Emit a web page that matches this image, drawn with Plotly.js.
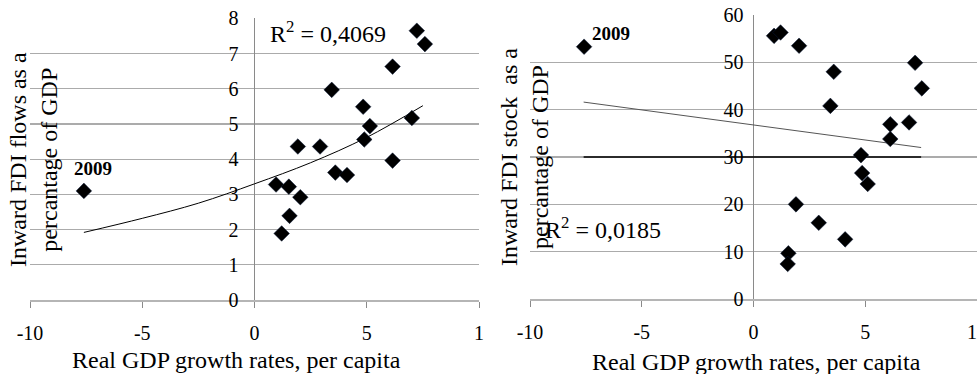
<!DOCTYPE html>
<html>
<head>
<meta charset="utf-8">
<script src="https://cdn.plot.ly/plotly-3.0.1.min.js"></script>
<style>html,body{margin:0;padding:0;background:#fff;}#chart{width:977px;height:374px;}</style>
</head>
<body>
<div id="chart"></div>
<script>
// ---- Data ----
const flowsX = [-7.6, 7.23, 7.59, 6.15, 3.44, 4.84, 5.14, 7.01, 4.89, 1.93, 2.92, 6.15, 3.60, 4.12, 0.96, 1.53, 2.04, 1.56, 1.21];
const flowsY = [3.10, 7.65, 7.27, 6.63, 5.97, 5.49, 4.94, 5.17, 4.56, 4.36, 4.36, 3.96, 3.62, 3.55, 3.28, 3.22, 2.92, 2.39, 1.89];
const flowsTrendX = [-7.6, -5, -2.5, 0, 2.5, 5, 7.5];
const flowsTrendY = [1.92, 2.32, 2.75, 3.30, 3.90, 4.62, 5.52];

const stockX = [-7.58, 0.92, 1.21, 2.04, 3.59, 3.44, 7.23, 7.53, 6.12, 6.12, 6.96, 4.81, 4.86, 5.11, 1.90, 2.92, 4.10, 1.56, 1.53];
const stockY = [53.3, 55.6, 56.3, 53.5, 48.0, 40.8, 49.9, 44.5, 36.9, 33.8, 37.3, 30.4, 26.6, 24.3, 20.0, 16.1, 12.6, 9.65, 7.4];
const stockTrendX = [-7.6, 7.5];
const stockTrendY = [41.6, 32.0];
const stockRefX = [-7.6, 7.5];
const stockRefY = [30, 30];

const xTickVals = [-10, -5, 0, 5, 10];
const xTickTextLeft = ['-10', '-5', '0', '5', '1'];
const xTickTextRight = ['-10', '-5', '0', '5', '10'];
const yTickValsLeft = [0, 1, 2, 3, 4, 5, 6, 7, 8];
const yTickValsRight = [0, 10, 20, 30, 40, 50, 60];

const r2Left = 'R<sup>2</sup> = 0,4069';
const r2Right = 'R<sup>2</sup> = 0,0185';
const yTitleLeft = 'Inward FDI flows as a<br>percantage of GDP';
const yTitleRight = 'Inward FDI stock&nbsp;&nbsp;as a<br>percantage of GDP';
const xTitle = 'Real GDP growth rates, per capita';
const yearLabel = '2009';

// ---- Layout geometry ----
const W = 977, H = 374;
const px = v => v / W;
const py = v => 1 - v / H;
const FONT = '"Liberation Serif", "DejaVu Serif", serif';

const marker = {symbol: 'diamond', size: 12, color: '#000000', line: {color: '#0a1a3a', width: 0.5}};

const traces = [
  {x: flowsTrendX, y: flowsTrendY, xaxis: 'x', yaxis: 'y', mode: 'lines', line: {color: '#000', width: 1, shape: 'spline'}, hoverinfo: 'skip'},
  {x: flowsX, y: flowsY, xaxis: 'x', yaxis: 'y', mode: 'markers', marker: marker},
  {x: stockRefX, y: stockRefY, xaxis: 'x2', yaxis: 'y2', mode: 'lines', line: {color: '#000', width: 1.3}, hoverinfo: 'skip'},
  {x: stockTrendX, y: stockTrendY, xaxis: 'x2', yaxis: 'y2', mode: 'lines', line: {color: '#555', width: 1}, hoverinfo: 'skip'},
  {x: stockX, y: stockY, xaxis: 'x2', yaxis: 'y2', mode: 'markers', marker: marker}
];

const gridColor = '#ababab';
const axisColor = '#8a8a8a';
const tickFont = {family: FONT, size: 20, color: '#000'};

function xAxis(domain, ticktext, anchor) {
  return {
    domain: domain, range: [-10, 10], anchor: anchor,
    tickvals: xTickVals, ticktext: ticktext, tickfont: tickFont,
    ticks: 'outside', ticklen: 6, tickcolor: axisColor, tickwidth: 1,
    ticklabelstandoff: 8, ticklabeloverflow: 'allow',
    showgrid: false, zeroline: true, zerolinecolor: axisColor, zerolinewidth: 1,
    showline: true, linecolor: '#b5b5b5', linewidth: 2, fixedrange: true
  };
}
function yAxis(domain, range, tickvals, position, standoff) {
  return {
    domain: domain, range: range, anchor: 'free', position: position,
    tickvals: tickvals, tickfont: tickFont, ticks: '', ticklabelstandoff: standoff,
    showgrid: true, gridcolor: gridColor, gridwidth: 1.3,
    zeroline: false, showline: false, fixedrange: true
  };
}

const layout = {
  width: W, height: H,
  margin: {l: 0, r: 0, t: 0, b: 0},
  paper_bgcolor: '#fff', plot_bgcolor: '#fff',
  showlegend: false,
  font: {family: FONT, color: '#000'},
  xaxis: xAxis([px(30), px(479)], xTickTextLeft, 'y'),
  yaxis: yAxis([1 - 300 / H, 1 - 18.4 / H], [0, 8], yTickValsLeft, px(254.5), 16),
  xaxis2: xAxis([px(530), 1], xTickTextRight, 'y2'),
  yaxis2: yAxis([1 - 299 / H, 1 - 15 / H], [0, 60], yTickValsRight, px(753.5), 10),
  annotations: [
    {text: r2Left, xref: 'paper', yref: 'paper', x: px(268), y: py(32), xanchor: 'left', yanchor: 'middle', showarrow: false, font: {family: FONT, size: 24}},
    {text: r2Right, xref: 'paper', yref: 'paper', x: px(543), y: py(228), xanchor: 'left', yanchor: 'middle', showarrow: false, font: {family: FONT, size: 24}},
    {text: '<b>' + yearLabel + '</b>', xref: 'paper', yref: 'paper', x: px(72), y: py(168), xanchor: 'left', yanchor: 'middle', showarrow: false, font: {family: FONT, size: 19}},
    {text: '<b>' + yearLabel + '</b>', xref: 'paper', yref: 'paper', x: px(590), y: py(33), xanchor: 'left', yanchor: 'middle', showarrow: false, font: {family: FONT, size: 19}},
    {text: yTitleLeft, xref: 'paper', yref: 'paper', x: px(34), y: py(160), xanchor: 'center', yanchor: 'middle', textangle: -90, showarrow: false, font: {family: FONT, size: 24}},
    {text: yTitleRight, xref: 'paper', yref: 'paper', x: px(524), y: py(157), xanchor: 'center', yanchor: 'middle', textangle: -90, showarrow: false, font: {family: FONT, size: 24}},
    {text: xTitle, xref: 'paper', yref: 'paper', x: px(236), y: py(360), xanchor: 'center', yanchor: 'middle', showarrow: false, font: {family: FONT, size: 24}},
    {text: xTitle, xref: 'paper', yref: 'paper', x: px(756), y: py(362), xanchor: 'center', yanchor: 'middle', showarrow: false, font: {family: FONT, size: 24}}
  ]
};

Plotly.newPlot('chart', traces, layout, {staticPlot: true, displayModeBar: false});
</script>
</body>
</html>
